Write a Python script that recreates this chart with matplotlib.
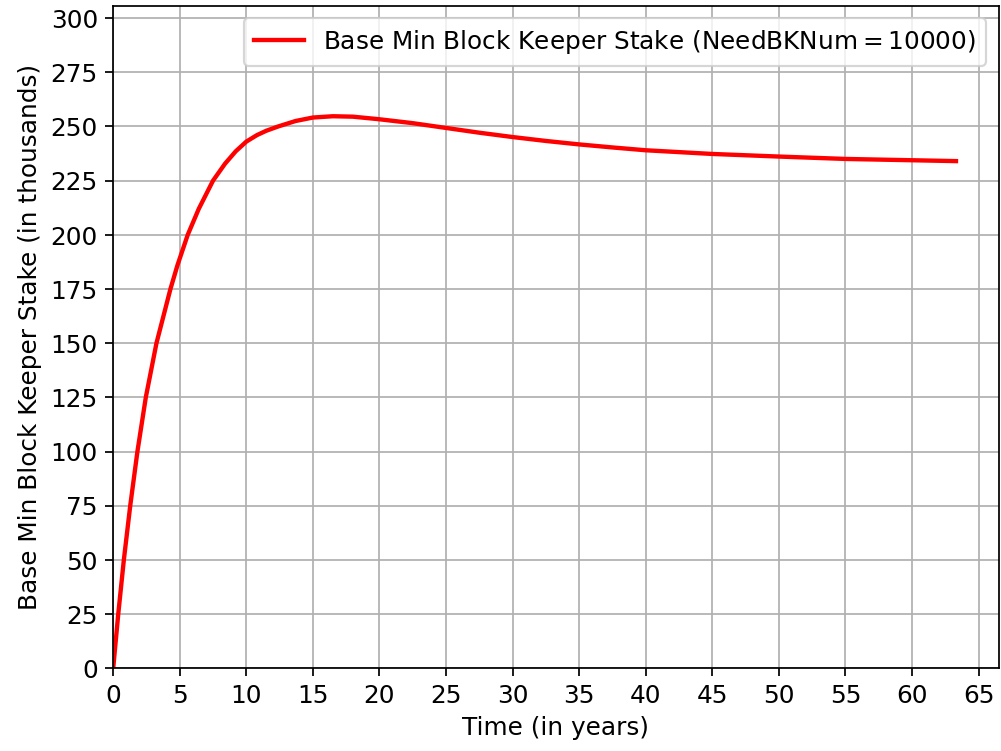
import matplotlib
matplotlib.use("Agg")
import matplotlib.pyplot as plt
import numpy as np

# Base minimum block keeper stake over time (thousands)
years = [0, 0.38, 0.8, 1.28, 1.82, 2.45, 3.25, 4.3, 4.83, 5.6, 6.43, 7.5,
         8.4, 9.2, 10.0, 10.8, 11.5, 12.4, 13.7, 15.0, 16.5, 18.0, 20.0,
         22.5, 25.0, 27.5, 30.0, 32.5, 35.0, 37.5, 40.0, 45.0, 50.0, 55.0,
         60.0, 63.3]
stake_k = [0, 25, 50, 75, 100, 125, 150, 175, 186, 200, 212, 225,
           232.8, 238.5, 243, 246, 248, 250, 252.5, 254.1, 254.7, 254.5, 253.3,
           251.5, 249.3, 247.1, 245.1, 243.3, 241.7, 240.3, 239.0, 237.3, 236.1, 235.0,
           234.4, 234.0]

need_bk_num = 10000

plt.rcParams['font.size'] = 11.4

fig, ax = plt.subplots(figsize=(6.4, 4.8), dpi=156.5)
fig.subplots_adjust(left=0.113, right=0.997, top=0.992, bottom=0.110)

ax.plot(years, stake_k, color='red', linewidth=2,
        label=f'Base Min Block Keeper Stake (NeedBKNum$=${need_bk_num})')

ax.set_xlim(0, 66.5)
ax.set_ylim(0, max(stake_k) * 1.2)
ax.set_xticks(np.arange(0, 66, 5))
ax.set_yticks(np.arange(0, 301, 25))
ax.grid(True)
ax.set_xlabel('Time (in years)')
ax.set_ylabel('Base Min Block Keeper Stake (in thousands)')
ax.legend(loc='upper right')

plt.savefig('out.png', dpi=156.5)
